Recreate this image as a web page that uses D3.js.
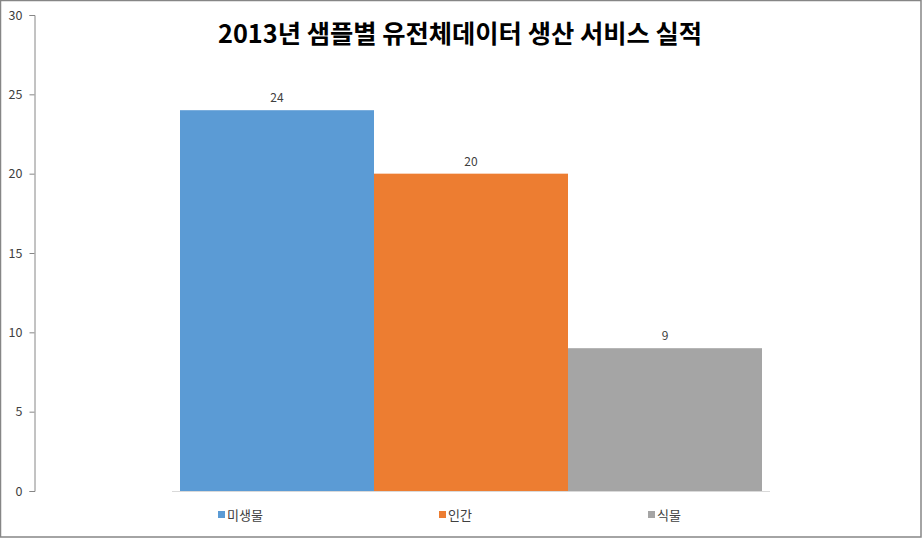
<!DOCTYPE html>
<html><head><meta charset="utf-8">
<script src="https://cdn.jsdelivr.net/npm/d3@7"></script>
<style>body{margin:0;background:#fff}svg{display:block}text{font-family:"Noto Sans CJK KR","Noto Sans",sans-serif}</style>
</head><body>
<script>
const categories = ["미생물", "인간", "식물"];
const values = [24, 20, 9];
const colors = ["#5b9bd5", "#ed7d31", "#a5a5a5"];
const yTicks = [0, 5, 10, 15, 20, 25, 30];
const title = "2013년 샘플별 유전체데이터 생산 서비스 실적";

const W = 923, H = 540;
const svg = d3.select("body").append("svg").attr("width", W).attr("height", H);
svg.append("rect").attr("x", 0.5).attr("y", 0.5).attr("width", 920.5).attr("height", 536.5)
  .attr("fill", "#fff").attr("stroke", "#868686").attr("stroke-width", 1.5);

const y = d3.scaleLinear().domain([0, 30]).range([491, 15]);
const x = d3.scaleBand().domain(categories).range([180, 762]).padding(0);

const yAxis = svg.append("g").attr("transform", "translate(34.5,0)")
  .call(d3.axisLeft(y).tickValues(yTicks).tickSize(5).tickPadding(7));
yAxis.select(".domain").attr("stroke", "#868686");
yAxis.selectAll(".tick line").attr("stroke", "#868686");
yAxis.selectAll(".tick text").attr("font-size", 12.5).attr("fill", "#404040");

svg.append("line").attr("x1", 172).attr("x2", 770).attr("y1", 491.5).attr("y2", 491.5)
  .attr("stroke", "#d9d9d9");

svg.selectAll("rect.bar").data(values).enter().append("rect").attr("class", "bar")
  .attr("x", (d, i) => x(categories[i]))
  .attr("width", x.bandwidth())
  .attr("y", d => y(d))
  .attr("height", d => y(0) - y(d))
  .attr("fill", (d, i) => colors[i]);

svg.selectAll("text.lbl").data(values).enter().append("text").attr("class", "lbl")
  .attr("x", (d, i) => x(categories[i]) + x.bandwidth() / 2)
  .attr("y", d => y(d) - 8)
  .attr("text-anchor", "middle").attr("font-size", 12).attr("fill", "#404040")
  .text(d => d);

svg.append("text").attr("x", 460).attr("y", 43).attr("text-anchor", "middle")
  .attr("font-size", 25.3).attr("font-weight", "bold").attr("fill", "#000").text(title);

const legX = [218, 439, 648];
const leg = svg.selectAll("g.leg").data(categories).enter().append("g").attr("class", "leg")
  .attr("transform", (d, i) => `translate(${legX[i]},515)`);
leg.append("rect").attr("x", 0).attr("y", -4).attr("width", 7).attr("height", 7)
  .attr("fill", (d, i) => colors[i]);
leg.append("text").attr("x", 9).attr("y", 5).attr("font-size", 13).attr("fill", "#404040").text(d => d);
</script>
</body></html>
